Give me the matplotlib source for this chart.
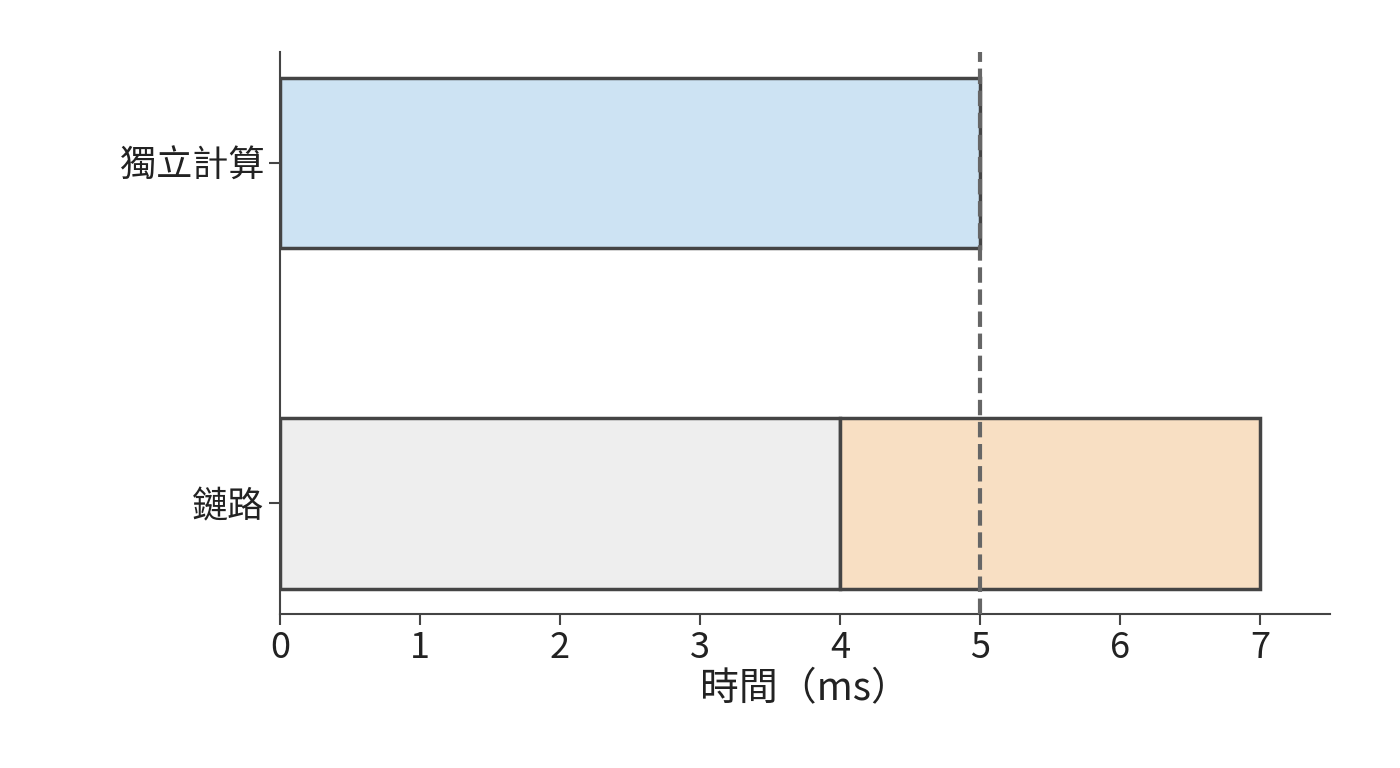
import matplotlib
matplotlib.use("Agg")
from matplotlib import pyplot as plt

plt.rcParams['font.family'] = ['Noto Sans CJK TC', 'DejaVu Sans']

categories = ['鏈路', '獨立計算']
# segments per row: (start, width, color)
chain_starts = [0, 4]
chain_widths = [4, 3]
chain_colors = ['#eeeeee', '#f8dfc3']
indep_starts = [0]
indep_widths = [5]
indep_colors = ['#cde3f3']
deadline = 5

fig, ax = plt.subplots(figsize=(14, 7.68), dpi=100)
fig.subplots_adjust(left=0.2, right=0.95, top=0.932, bottom=0.2)

edge = '#444444'
ax.barh([0] * len(chain_starts), chain_widths, left=chain_starts, height=0.5,
        color=chain_colors, edgecolor=edge, linewidth=2.5)
ax.barh([1] * len(indep_starts), indep_widths, left=indep_starts, height=0.5,
        color=indep_colors, edgecolor=edge, linewidth=2.5)
ax.axvline(deadline, color='#666666', linestyle='--', linewidth=3, zorder=3)

ax.set_xlim(0, 7.5)
ax.set_ylim(-0.326, 1.326)
ax.set_yticks([0, 1])
ax.set_yticklabels(categories)
ax.set_xticks(range(8))
ax.tick_params(labelsize=26, colors='#222222', length=8, width=1.5)
ax.tick_params(axis='both', color=edge)
ax.set_xlabel('時間（ms）', fontsize=28, color='#222222', labelpad=2)

for s in ['top', 'right']:
    ax.spines[s].set_visible(False)
for s in ['left', 'bottom']:
    ax.spines[s].set_color(edge)
    ax.spines[s].set_linewidth(1.5)

plt.savefig('out.png', dpi=100)
